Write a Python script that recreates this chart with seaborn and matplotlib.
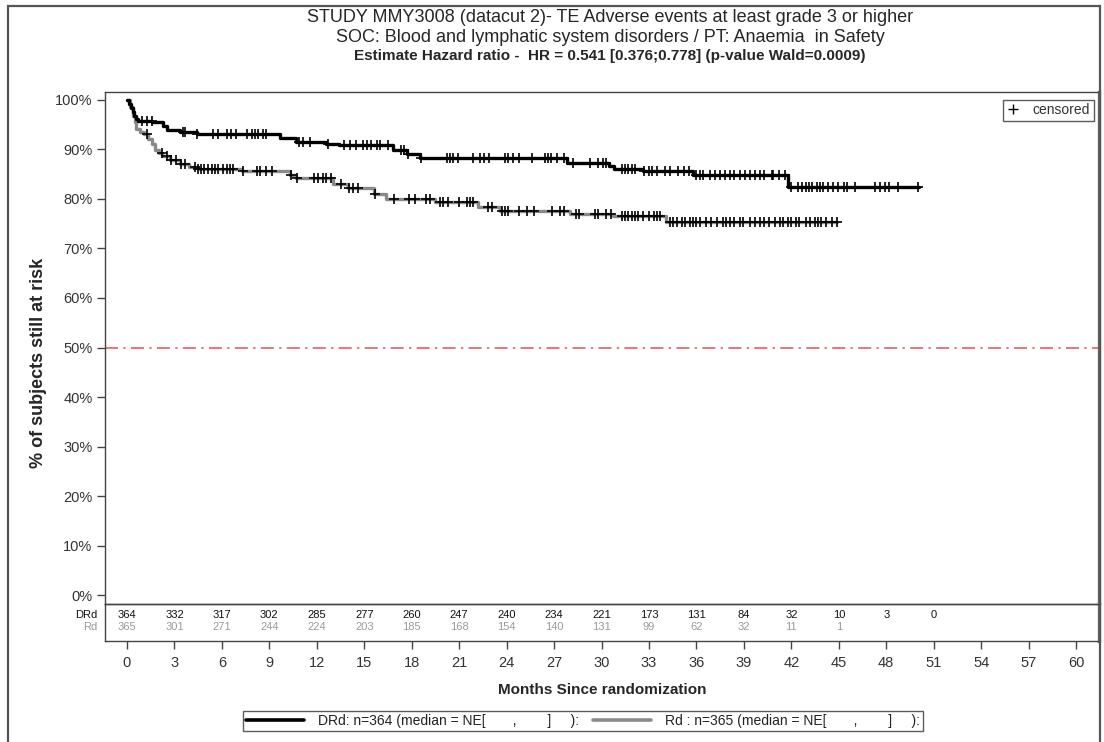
import numpy as np
import pandas as pd
import matplotlib
matplotlib.use("Agg")
import matplotlib.pyplot as plt
from matplotlib.lines import Line2D
from matplotlib.patches import Rectangle
import seaborn as sns

# ---------------- data ----------------
drd_times = [0, 0.15, 0.25, 0.35, 0.45, 0.6, 0.7, 1.6, 2.3, 2.5, 3.35, 4.4, 9.7, 10.7,
             12.6, 13.4, 16.8, 17.7, 18.5, 27.8, 30.5, 30.8, 32.6, 35.8, 41.8, 50.1]
drd_surv = [100, 99.2, 98.3, 97.5, 96.7, 96.1, 95.8, 95.5, 94.8, 94.0, 93.6, 93.1, 92.3, 91.6,
            91.1, 90.8, 89.8, 89.1, 88.2, 87.3, 86.6, 86.1, 85.7, 84.8, 82.4, 82.4]

rd_times = [0, 0.2, 0.4, 0.5, 0.6, 0.85, 1.1, 1.3, 1.6, 1.8, 2.0, 2.2, 2.7, 3.35, 3.9, 4.5,
            7.3, 10.3, 10.7, 13.0, 14.0, 15.6, 16.4, 19.5, 22.2, 23.6, 28.0, 30.7, 34.1, 44.9]
rd_surv = [100, 98.5, 96.8, 95.5, 94.1, 93.6, 93.1, 92.1, 91.1, 89.8, 89.2, 88.7, 87.9, 87.1,
           86.4, 86.1, 85.7, 84.8, 84.2, 83.0, 82.2, 81.0, 80.0, 79.3, 78.3, 77.6, 77.0, 76.5,
           75.4, 75.4]

drd_censor = [0.93, 1.24, 1.56, 3.56, 3.67, 4.4, 5.46, 5.77, 6.3, 6.6, 6.9, 7.57, 7.88, 8.09,
              8.3, 8.6, 8.8, 10.9, 11.1, 11.6, 12.7, 13.7, 14.1, 14.5, 14.9, 15.15, 15.4, 15.8,
              16.0, 16.5, 17.3, 17.5, 17.75, 18.6, 20.2, 20.4, 20.6, 20.9, 21.9, 22.3, 22.6,
              22.9, 23.9, 24.1, 24.4, 24.8, 25.6, 26.4, 26.6, 26.8, 27.2, 27.6, 28.2, 29.3,
              29.8, 30.1, 30.3, 31.3, 31.5, 31.7, 31.9, 32.1, 32.7, 33.0, 33.2, 33.5, 34.0,
              34.3, 34.85, 35.2, 35.5, 36.0, 36.2, 36.4, 36.85, 37.2, 37.5, 37.8, 38.1, 38.4,
              38.75, 39.1, 39.4, 39.7, 40.0, 40.3, 40.75, 40.85, 41.2, 41.6, 42.0, 42.4, 42.65,
              42.9, 43.1, 43.3, 43.6, 43.8, 44.0, 44.3, 44.65, 44.95, 45.3, 45.5, 46.0, 47.3,
              47.6, 47.9, 48.2, 48.75, 50.0]
rd_censor = [1.24, 2.19, 2.5, 2.8, 3.1, 3.4, 3.67, 4.3, 4.5, 4.7, 4.9, 5.1, 5.35, 5.56, 5.77,
             6.1, 6.3, 6.5, 6.7, 7.35, 8.2, 8.4, 8.8, 9.15, 10.4, 10.75, 11.8, 12.1, 12.4, 12.6,
             12.9, 13.5, 14.05, 14.3, 14.6, 15.7, 16.9, 17.8, 18.2, 18.9, 19.15, 19.8, 20.0,
             20.3, 21.0, 21.5, 21.7, 21.9, 22.8, 23.05, 23.7, 23.9, 24.1, 24.8, 25.3, 25.7,
             26.85, 27.4, 27.6, 28.4, 28.6, 29.6, 29.8, 30.3, 30.6, 31.3, 31.5, 31.7, 31.9,
             32.1, 32.3, 32.6, 33.0, 33.3, 33.5, 33.7, 34.3, 34.5, 34.75, 35.1, 35.3, 35.6,
             35.8, 36.0, 36.2, 36.6, 36.95, 37.3, 37.7, 37.9, 38.1, 38.4, 38.75, 38.95, 39.4,
             39.7, 40.0, 40.3, 40.6, 40.95, 41.3, 41.5, 41.8, 42.0, 42.3, 42.5, 42.9, 43.2,
             43.5, 43.7, 43.9, 44.2, 44.55, 44.9]

risk_times = [0, 3, 6, 9, 12, 15, 18, 21, 24, 27, 30, 33, 36, 39, 42, 45, 48, 51]
risk_drd = [364, 332, 317, 302, 285, 277, 260, 247, 240, 234, 221, 173, 131, 84, 32, 10, 3, 0]
risk_rd = [365, 301, 271, 244, 224, 203, 185, 168, 154, 140, 131, 99, 62, 32, 11, 1]

x_ticks = list(range(0, 61, 3))
y_ticks = list(range(0, 101, 10))

title_lines = ["STUDY MMY3008 (datacut 2)- TE Adverse events at least grade 3 or higher",
               "SOC: Blood and lymphatic system disorders / PT: Anaemia  in Safety",
               "Estimate Hazard ratio -  HR = 0.541 [0.376;0.778] (p-value Wald=0.0009)"]
legend_drd = "DRd: n=364 (median = NE[       ,        ]     ):"
legend_rd = "Rd : n=365 (median = NE[       ,        ]     ):"

# ---------------- style ----------------
sns.set_theme(style="white")
plt.rcParams['font.family'] = ['Liberation Sans', 'DejaVu Sans']

W, H = 1104, 742
fig = plt.figure(figsize=(W / 100, H / 100), dpi=100)
fig.patch.set_facecolor("white")

def fx(px):
    return px / W

def fy(py):
    return 1 - py / H

ax = fig.add_axes([fx(105), fy(604), fx(1099) - fx(105), fy(92) - fy(604)])
tab = fig.add_axes([fx(105), fy(641), fx(1099) - fx(105), fy(604) - fy(641)], sharex=ax)
tab.patch.set_alpha(0)

XL = (-1.39, 61.45)
ax.set_xlim(*XL)
ax.set_ylim(-1.8, 101.6)

def curve_df(times, surv, name):
    return pd.DataFrame({"t": times, "s": surv, "arm": name})

df = pd.concat([curve_df(drd_times, drd_surv, "DRd"), curve_df(rd_times, rd_surv, "Rd")])

sns.lineplot(data=df[df.arm == "DRd"], x="t", y="s", ax=ax, color="black", lw=2.4,
             drawstyle="steps-post", estimator=None, sort=False, legend=False, zorder=3)
sns.lineplot(data=df[df.arm == "Rd"], x="t", y="s", ax=ax, color="#8a8a8a", lw=2.4,
             drawstyle="steps-post", estimator=None, sort=False, legend=False, zorder=2)

def surv_at(times, surv, ct):
    idx = np.searchsorted(np.array(times), np.array(ct), side="right") - 1
    return np.array(surv)[idx]

cens = pd.concat([
    pd.DataFrame({"t": drd_censor, "s": surv_at(drd_times, drd_surv, drd_censor)}),
    pd.DataFrame({"t": rd_censor, "s": surv_at(rd_times, rd_surv, rd_censor)}),
])
sns.scatterplot(data=cens, x="t", y="s", ax=ax, marker="+", color="black", s=45,
                linewidth=1.2, legend=False, zorder=4)

ax.axhline(50, color="#e0505a", lw=1.1, dashes=(8.5, 3.5, 1.5, 3.5), zorder=1)

# axes styling
ax.set_xlabel("")
ax.set_ylabel("% of subjects still at risk", fontsize=13, fontweight="bold")
ax.yaxis.set_label_coords(-0.058, 0.47)
ax.set_yticks(y_ticks)
ax.set_yticklabels([f"{v}%" for v in y_ticks], fontsize=10.5, color="#333333")
ax.tick_params(axis="y", left=True, length=6, width=1, color="#444444", pad=3)
ax.tick_params(axis="x", bottom=False, labelbottom=False)
for sp in ax.spines.values():
    sp.set_color("#444444")
    sp.set_linewidth(1.0)
ax.spines["right"].set_linewidth(2.4)
ax.spines["right"].set_color("#666666")

# censored legend
h = Line2D([], [], marker="+", color="black", lw=0, markersize=7, mew=1)
leg = ax.legend([h], ["censored"], loc="upper right", bbox_to_anchor=(0.9945, 0.985),
                frameon=True, fancybox=False, fontsize=10, handlelength=1.0,
                handletextpad=0.9, borderpad=0.25, borderaxespad=0.0)
leg.get_frame().set_edgecolor("#333333")
leg.get_frame().set_linewidth(1.0)
for t in leg.get_texts():
    t.set_color("#333333")

# risk table
tab.set_ylim(0, 1)
tab.set_yticks([])
for t, n in zip(risk_times, risk_drd):
    tab.text(t, 0.70, str(n), ha="center", va="center", fontsize=8, color="#111111")
for t, n in zip(risk_times, risk_rd):
    tab.text(t, 0.38, str(n), ha="center", va="center", fontsize=8, color="#9a9a9a")
tab.text(-0.008, 0.70, "DRd", transform=tab.transAxes, ha="right", va="center",
         fontsize=8, color="#111111")
tab.text(-0.008, 0.38, "Rd", transform=tab.transAxes, ha="right", va="center",
         fontsize=8, color="#9a9a9a")
tab.set_xticks(x_ticks)
tab.set_xticklabels([str(v) for v in x_ticks], fontsize=10.5, color="#333333")
tab.tick_params(axis="x", bottom=True, length=6, width=1, color="#444444", pad=5)
tab.spines["top"].set_visible(True)
for s in ["left", "bottom", "right", "top"]:
    tab.spines[s].set_color("#444444")
    tab.spines[s].set_linewidth(1.0)
tab.spines["right"].set_linewidth(2.4)
tab.spines["right"].set_color("#666666")
tab.set_xlabel("Months Since randomization", fontsize=11, fontweight="bold", labelpad=9)
tab.set_ylabel("")

# titles
fig.text(fx(610), fy(17), title_lines[0], ha="center", va="center", fontsize=13)
fig.text(fx(610), fy(37), title_lines[1], ha="center", va="center", fontsize=13)
fig.text(fx(610), fy(56), title_lines[2], ha="center", va="center", fontsize=11,
         fontweight="bold")

# bottom legend
hd = Line2D([], [], color="black", lw=2.6)
hr = Line2D([], [], color="#8a8a8a", lw=2.6)
bl = fig.legend([hd, hr], [legend_drd, legend_rd], loc="center",
                bbox_to_anchor=(fx(583), fy(721)), ncol=2, frameon=True, fancybox=False,
                fontsize=10, handlelength=4.2, handletextpad=1.0, columnspacing=1.0,
                borderpad=0.2)
bl.get_frame().set_edgecolor("#333333")
bl.get_frame().set_linewidth(1.0)
for t in bl.get_texts():
    t.set_color("#222222")

# outer border
fig.patches.append(Rectangle((fx(8), -0.2), fx(1100) - fx(8), fy(6) + 0.2,
                             transform=fig.transFigure, fill=False, edgecolor="#555555",
                             lw=1.6, clip_on=False))

fig.savefig("out.png", dpi=100)
